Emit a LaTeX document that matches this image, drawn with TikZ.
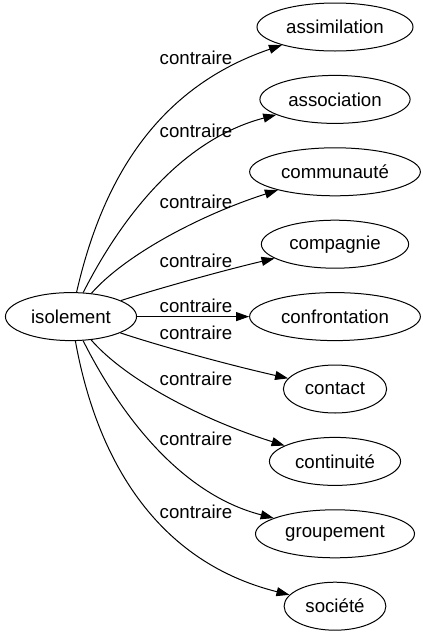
\documentclass[tikz,border=0pt]{standalone}
\usepackage{fontspec}
\setmainfont{Liberation Sans}
\usetikzlibrary{shapes.geometric,arrows.meta}
\begin{document}
\begin{tikzpicture}[x=1pt,y=-1pt, line join=round,
  mot/.style={draw,ellipse,line width=1pt,inner xsep=6.4pt,inner ysep=3pt,minimum height=48pt,font=\fontsize{18.67}{22}\selectfont},
  rel/.style={inner sep=0pt,font=\fontsize{18.67}{22}\selectfont},
  fl/.style={-{Triangle[length=13pt,width=9pt]},line width=1pt}]
\useasboundingbox (0,0) rectangle (423,635);
\node[mot] (isolement)     at (71,316.6)  {isolement};
\node[mot] (assimilation)  at (335,27)    {assimilation};
\node[mot] (association)   at (335,99.4)  {association};
\node[mot] (communaute)    at (335,171.8) {communauté};
\node[mot] (compagnie)     at (335,244.2) {compagnie};
\node[mot] (confrontation) at (335,316.6) {confrontation};
\node[mot] (contact)       at (335,389)   {contact};
\node[mot] (continuite)    at (335,461.4) {continuité};
\node[mot] (groupement)    at (335,533.8) {groupement};
\node[mot] (societe)       at (335,606.2) {société};
\node[rel] (r1) at (196,58)  {contraire};
\node[rel] (r2) at (196,131) {contraire};
\node[rel] (r3) at (196,202) {contraire};
\node[rel] (r4) at (196,261) {contraire};
\node[rel] (r5) at (196,306) {contraire};
\node[rel] (r6) at (196,333) {contraire};
\node[rel] (r7) at (196,379) {contraire};
\node[rel] (r8) at (196,439) {contraire};
\node[rel] (r9) at (196,512) {contraire};
\draw[fl] (isolement) .. controls (100,190) and (150,90) .. (assimilation);
\draw[fl] (isolement) .. controls (120,220) and (180,140) .. (association);
\draw[fl] (isolement) .. controls (125,255) and (200,215) .. (communaute);
\draw[fl] (isolement) .. controls (160,288) and (225,270) .. (compagnie);
\draw[fl] (isolement) -- (confrontation);
\draw[fl] (isolement) .. controls (160,346) and (225,364) .. (contact);
\draw[fl] (isolement) .. controls (125,379) and (200,419) .. (continuite);
\draw[fl] (isolement) .. controls (120,414) and (180,494) .. (groupement);
\draw[fl] (isolement) .. controls (95,450) and (150,560) .. (societe);
\end{tikzpicture}
\end{document}
